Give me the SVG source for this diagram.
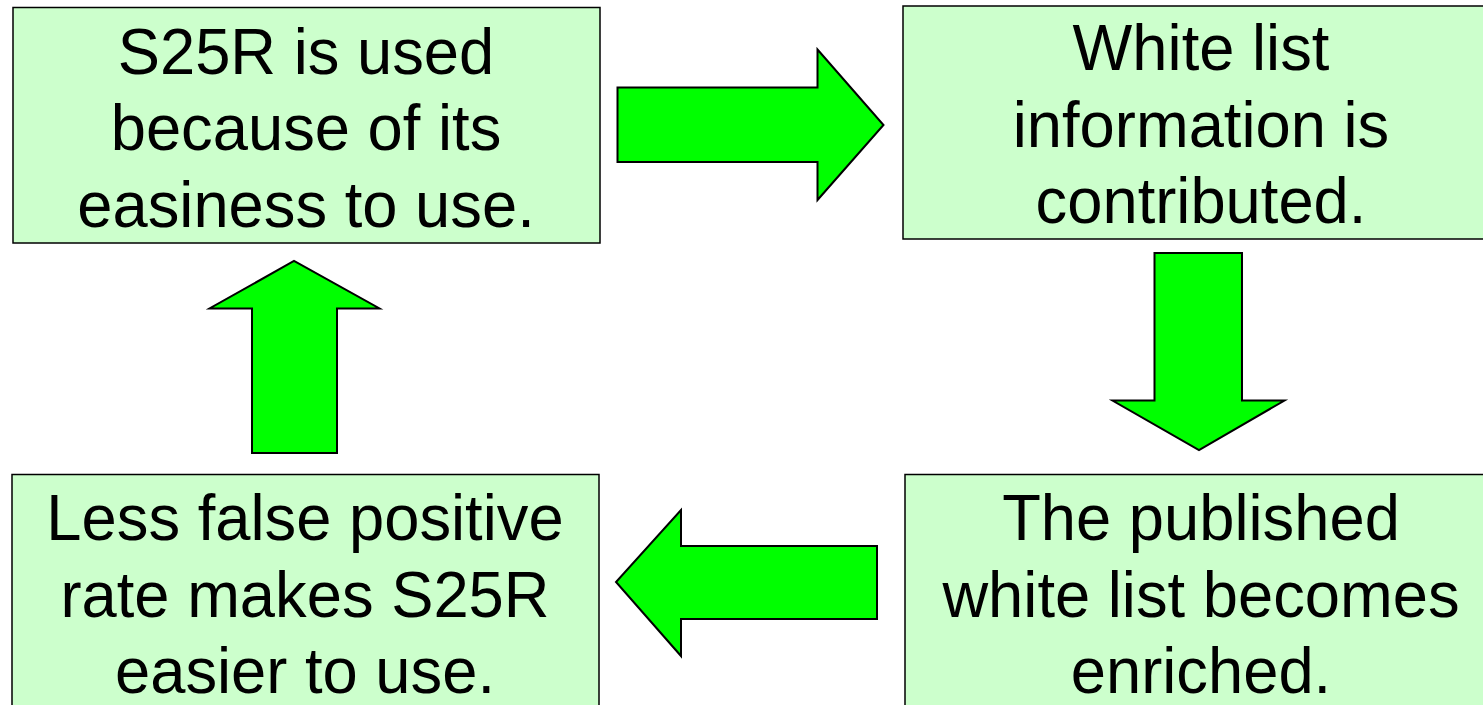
<svg xmlns="http://www.w3.org/2000/svg" width="1483" height="705" viewBox="0 0 1483 705">
  <style>
    .box { fill: #CCFFCC; stroke: #000000; stroke-width: 1.5; }
    .label { font-family: "Liberation Sans", Arial, sans-serif; font-size: 65px; fill: #000000; text-anchor: middle; }
    .arrow { fill: #00FF00; stroke: #000000; stroke-width: 2; stroke-linejoin: miter; }
  </style>
  <rect width="1483" height="705" fill="#FFFFFF"/>

  <!-- Cycle steps; labels are slightly condensed horizontally -->
  <g id="node-s25r-used">
    <rect class="box" x="13" y="7.5" width="587" height="235.5"/>
    <text class="label" transform="translate(306 73.5) scale(0.974 1)">S25R is used</text>
    <text class="label" transform="translate(306 150) scale(0.974 1)">because of its</text>
    <text class="label" transform="translate(306 226.5) scale(0.974 1)">easiness to use.</text>
  </g>

  <g id="node-whitelist-contributed">
    <rect class="box" x="903" y="6" width="596" height="233"/>
    <text class="label" transform="translate(1201 70) scale(0.974 1)">White list</text>
    <text class="label" transform="translate(1201 146.5) scale(0.974 1)">information is</text>
    <text class="label" transform="translate(1201 223) scale(0.974 1)">contributed.</text>
  </g>

  <g id="node-whitelist-enriched">
    <rect class="box" x="905" y="474.5" width="594" height="250"/>
    <text class="label" transform="translate(1201 540) scale(0.974 1)">The published</text>
    <text class="label" transform="translate(1201 616.5) scale(0.974 1)">white list becomes</text>
    <text class="label" transform="translate(1201 693) scale(0.974 1)">enriched.</text>
  </g>

  <g id="node-easier-to-use">
    <rect class="box" x="12" y="474.5" width="587" height="250"/>
    <text class="label" transform="translate(305 540) scale(0.974 1)">Less false positive</text>
    <text class="label" transform="translate(305 616.5) scale(0.974 1)">rate makes S25R</text>
    <text class="label" transform="translate(305 693) scale(0.974 1)">easier to use.</text>
  </g>

  <!-- Block arrows linking the steps -->
  <g id="connectors">
    <polygon class="arrow" points="617.5,87.5 817.5,87.5 817.5,49.5 883.5,125 817.5,200 817.5,162 617.5,162"/>
    <polygon class="arrow" points="1154.5,253 1242,253 1242,400.5 1284.5,400.5 1199,450 1112.5,400.5 1154.5,400.5"/>
    <polygon class="arrow" points="877,546 681,546 681,510 616,582 681,656 681,619 877,619"/>
    <polygon class="arrow" points="252,453 337,453 337,308.5 379.5,308.5 294,261 209.5,308.5 252,308.5"/>
  </g>
</svg>
